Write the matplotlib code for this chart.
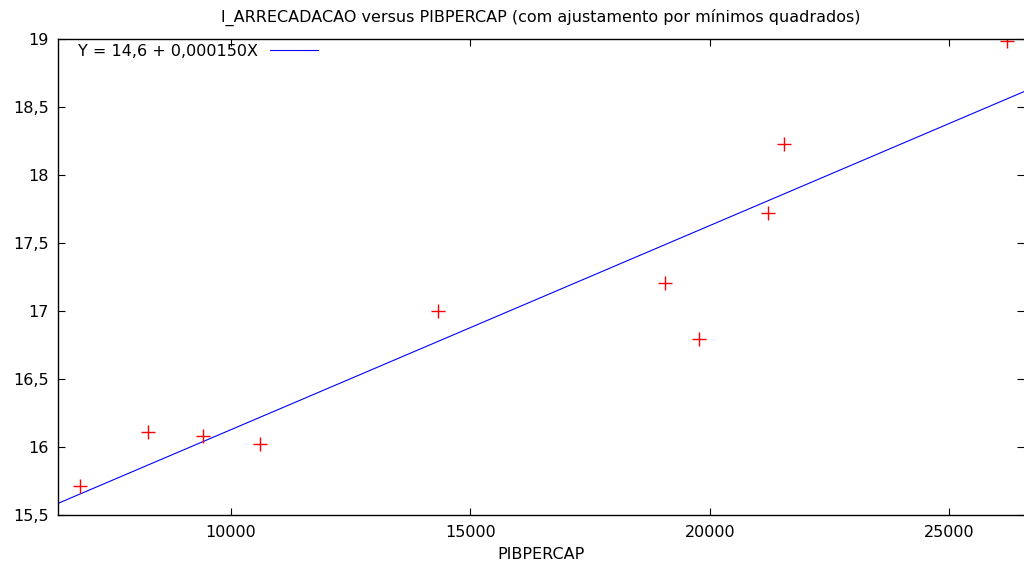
import numpy as np
import matplotlib
matplotlib.use("Agg")
import matplotlib.pyplot as plt
from matplotlib.ticker import FuncFormatter

# PIBPERCAP vs l_ARRECADACAO
pibpercap = [6860, 8287, 9415, 10606, 14319, 19062, 19772, 21214, 21554, 26201]
l_arrecadacao = [15.717, 16.114, 16.084, 16.023, 17.0, 17.203, 16.797, 17.717, 18.226, 18.985]

x_range = [6406, 26560]
y_range = [15.5, 19.0]
x_ticks = [10000, 15000, 20000, 25000]
y_ticks = [15.5, 16, 16.5, 17, 17.5, 18, 18.5, 19]

fit_label = "Y = 14,6 + 0,000150X"

plt.rcParams["font.family"] = ["DejaVu Sans"]
fs = 11.5

fig = plt.figure(figsize=(10.24, 5.68), dpi=100)
ax = fig.add_axes([0.057, 0.0928, 0.943, 0.8392])

# least squares line over the x range
slope, intercept = np.polyfit(pibpercap, l_arrecadacao, 1)
xs = np.array(x_range, dtype=float)
ax.plot(xs, intercept + slope * xs, color="#0000ff", lw=0.8, label=fit_label)

ax.plot(pibpercap, l_arrecadacao, ls="none", marker="+", color="#ff0000",
        markersize=10, markeredgewidth=1.0)

ax.set_xlim(x_range)
ax.set_ylim(y_range)
ax.set_xticks(x_ticks)
ax.set_yticks(y_ticks)


def comma(v, pos):
    return ("%g" % v).replace(".", ",")


ax.yaxis.set_major_formatter(FuncFormatter(comma))
ax.xaxis.set_major_formatter(FuncFormatter(lambda v, p: "%d" % v))

ax.tick_params(direction="in", length=5, width=0.8, top=True, right=True,
               labelsize=fs, colors="black")
ax.tick_params(axis="y", pad=7)
ax.tick_params(axis="x", pad=7)
ax.spines["right"].set_visible(False)
for s in ("left", "bottom", "top"):
    ax.spines[s].set_linewidth(1.0)

ax.set_xlabel("PIBPERCAP", fontsize=fs, labelpad=5)
ax.set_title("l_ARRECADACAO versus PIBPERCAP (com ajustamento por mínimos quadrados)",
             fontsize=fs, pad=12)

ax.legend(loc="center left", bbox_to_anchor=(0.0204, 0.974), frameon=False,
          markerfirst=False, handlelength=3.0, fontsize=fs, borderaxespad=0,
          borderpad=0, handletextpad=0.75)

fig.savefig("out.png", dpi=100)
